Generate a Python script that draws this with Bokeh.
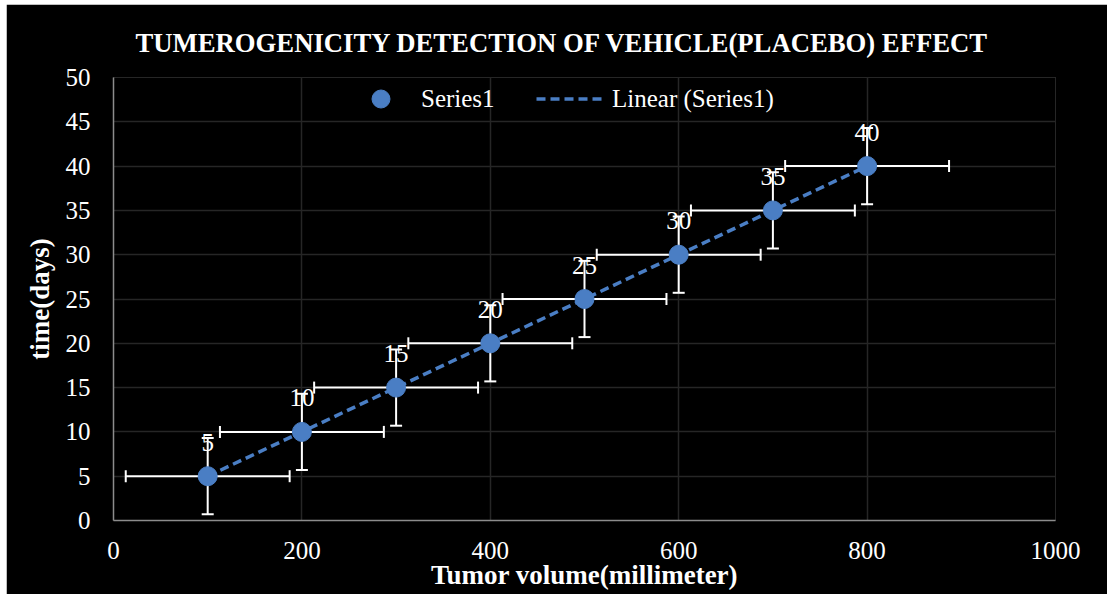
from bokeh.plotting import figure
from bokeh.models import (ColumnDataSource, Range1d, SingleIntervalTicker, Whisker,
                          TeeHead, Legend, LegendItem)
from bokeh.core.properties import value
from bokeh.embed import file_html
from bokeh.resources import INLINE
import numpy as np

# ---- data ----
volume = [100, 200, 300, 400, 500, 600, 700, 800]
days = [5, 10, 15, 20, 25, 30, 35, 40]
volume_err = [87, 87, 87, 87, 87, 87, 87, 87]
days_err = [4.3, 4.3, 4.3, 4.3, 4.3, 4.3, 4.3, 4.3]
point_labels = ["5", "10", "15", "20", "25", "30", "35", "40"]

title_text = "TUMEROGENICITY DETECTION OF VEHICLE(PLACEBO) EFFECT"
x_title = "Tumor volume(millimeter)"
y_title = "time(days)"

SERIF = "Liberation Serif"
BLUE = "#4a7ec4"

src = ColumnDataSource(dict(
    x=volume, y=days, lab=point_labels,
    xl=[v - e for v, e in zip(volume, volume_err)],
    xu=[v + e for v, e in zip(volume, volume_err)],
    yl=[v - e for v, e in zip(days, days_err)],
    yu=[v + e for v, e in zip(days, days_err)],
))

p = figure(width=1101, height=590, output_backend="svg", toolbar_location=None,
           x_range=Range1d(0, 1000), y_range=Range1d(0, 50),
           background_fill_color="black", border_fill_color="black",
           min_border_left=107, min_border_right=52, min_border_top=73, min_border_bottom=74)
p.margin = (4, 0, 0, 6)

p.outline_line_color = "#262626"

p.title.text = title_text
p.title.align = "left"
p.title.offset = 22
p.title.standoff = 40
p.title.text_font = SERIF
p.title.text_font_size = "26.7px"
p.title.text_font_style = "bold"
p.title.text_color = "white"

for ax in (p.xaxis[0], p.yaxis[0]):
    ax.axis_line_color = "#8c8c8c"
    ax.axis_line_width = 1.5
    ax.major_tick_line_color = None
    ax.minor_tick_line_color = None
    ax.major_label_text_font = SERIF
    ax.major_label_text_font_size = "25px"
    ax.major_label_text_color = "white"
    ax.axis_label_text_font = SERIF
    ax.axis_label_text_font_size = "27px"
    ax.axis_label_text_font_style = "bold"
    ax.axis_label_text_color = "white"

p.xaxis.ticker = SingleIntervalTicker(interval=200)
p.yaxis.ticker = SingleIntervalTicker(interval=5)
p.xaxis.axis_label = x_title
p.yaxis.axis_label = y_title
p.xaxis.major_label_standoff = 15
p.xaxis.axis_label_standoff = -2
p.yaxis.major_label_standoff = 17
p.yaxis.axis_label_standoff = 8

p.grid.grid_line_color = "#262626"
p.grid.grid_line_width = 1.5
p.xgrid.ticker = SingleIntervalTicker(interval=200)
p.ygrid.ticker = SingleIntervalTicker(interval=5)

# error bars
wx = Whisker(source=src, base="y", lower="xl", upper="xu", dimension="width",
             line_color="white", line_width=2,
             lower_head=TeeHead(size=12, line_color="white", line_width=2),
             upper_head=TeeHead(size=12, line_color="white", line_width=2))
wy = Whisker(source=src, base="x", lower="yl", upper="yu", dimension="height",
             line_color="white", line_width=2,
             lower_head=TeeHead(size=12, line_color="white", line_width=2),
             upper_head=TeeHead(size=12, line_color="white", line_width=2))
p.add_layout(wx)
p.add_layout(wy)

# linear trend line (least-squares fit of the series)
slope, intercept = np.polyfit(volume, days, 1)
tx = [min(volume), max(volume)]
ty = [slope * v + intercept for v in tx]
trend = p.line(tx, ty, line_color=BLUE, line_width=3.5, line_dash="9 5")

pts = p.scatter("x", "y", source=src, size=19, fill_color=BLUE, line_color=BLUE)

p.text("x", "y", text="lab", source=src, text_font=value(SERIF), text_font_size="25px",
       text_color="white", text_align="center", text_baseline="alphabetic", y_offset=-34)

leg1 = Legend(items=[LegendItem(label="Series1", renderers=[pts])],
              location=(245, 399), glyph_width=45, glyph_height=45, label_standoff=18,
              padding=0, margin=0, spacing=0,
              background_fill_alpha=0, border_line_alpha=0,
              label_text_font=SERIF, label_text_font_size="25px", label_text_color="white")
leg2 = Legend(items=[LegendItem(label="Linear (Series1)", renderers=[trend])],
              location=(423, 399), glyph_width=70, glyph_height=45, label_standoff=6,
              padding=0, margin=0, spacing=0,
              background_fill_alpha=0, border_line_alpha=0,
              label_text_font=SERIF, label_text_font_size="25px", label_text_color="white")
p.add_layout(leg1)
p.add_layout(leg2)

open("out.html", "w").write(file_html(p, INLINE))
